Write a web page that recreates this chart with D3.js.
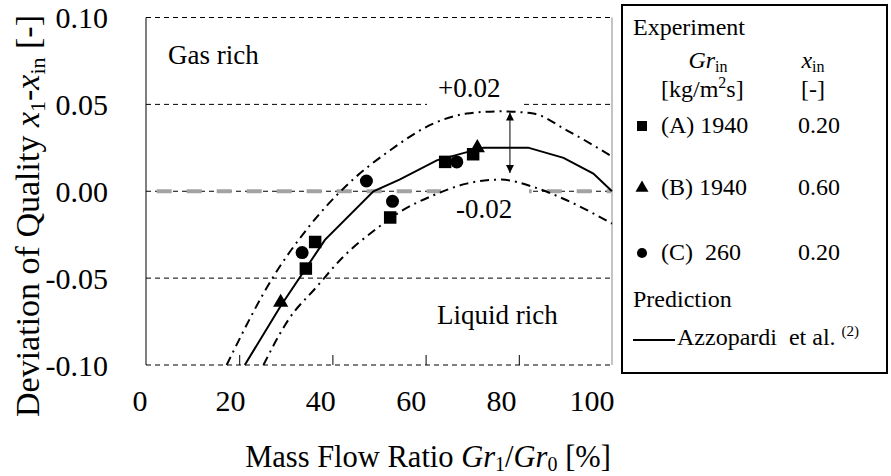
<!DOCTYPE html>
<html><head><meta charset="utf-8">
<script src="https://cdn.jsdelivr.net/npm/d3@7/dist/d3.min.js"></script>
<style>
body{margin:0;background:#fff}
svg{display:block}
</style>
</head><body>
<svg id="c" width="891" height="476" font-family="'Liberation Serif', 'Times New Roman', Times, 'DejaVu Serif', serif"></svg>
<script>
// ---------- data ----------
const xTicks = [0, 20, 40, 60, 80, 100];
const yTicks = [-0.10, -0.05, 0.00, 0.05, 0.10];
const gridLevels = [-0.10, -0.05, 0.00, 0.05, 0.10];
// Experiment (A) Gr_in 1940, x_in 0.20 (squares)
const seriesA = [[34.3, -0.0445], [36.3, -0.0292], [52.4, -0.0151], [64.2, 0.0169], [70.2, 0.0213]];
// Experiment (B) Gr_in 1940, x_in 0.60 (triangles)
const seriesB = [[28.9, -0.0640], [71.1, 0.0250]];
// Experiment (C) Gr_in 260, x_in 0.20 (circles)
const seriesC = [[33.5, -0.0353], [47.3, 0.0059], [52.9, -0.0058], [66.7, 0.0169]];
// Prediction, Azzopardi et al.
const prediction = [[21.2, -0.100], [28.9, -0.066], [38.4, -0.028], [48.8, 0.000], [54.4, 0.0067], [62.4, 0.0178],
  [72.4, 0.0251], [82.0, 0.0251], [89.6, 0.0192], [96.0, 0.0102], [100, 0.000]];
// +0.02 band
const upperBand = [[17.3, -0.100], [27.3, -0.0493], [34.8, -0.0209], [43.1, 0.0035], [52.4, 0.0236], [61.7, 0.0390],
  [68.8, 0.0447], [76.0, 0.0460], [83.1, 0.0447], [90.3, 0.0351], [100, 0.0200]];
// -0.02 band
const lowerBand = [[25.2, -0.100], [30.5, -0.0742], [36.6, -0.0551], [42.3, -0.0378], [49.5, -0.0215], [54.5, -0.0119],
  [61.7, -0.0023], [68.8, 0.0044], [76.0, 0.0067], [83.1, 0.0025], [90.3, -0.0052], [100, -0.0186]];
const arrowX = 78.1, arrowTop = 0.0453, arrowBottom = 0.0105;

// ---------- scales ----------
const svg = d3.select("#c");
const FONT = "'Liberation Serif', 'Times New Roman', Times, 'DejaVu Serif', serif";
const x = d3.scaleLinear().domain([0, 100]).range([146, 612]);
const xLab = d3.scaleLinear().domain([0, 100]).range([140, 592]);
const y = d3.scaleLinear().domain([-0.10, 0.10]).range([365, 17.5]);

// gridlines
svg.append("g").selectAll("line").data(gridLevels).join("line")
  .attr("x1", x(0)).attr("x2", x(100)).attr("y1", d => y(d)).attr("y2", d => y(d))
  .attr("stroke", "#000").attr("stroke-width", 1).attr("stroke-dasharray", "5,4");
// zero reference (gray)
svg.append("line").attr("x1", x(0)).attr("x2", x(100)).attr("y1", y(0)).attr("y2", y(0))
  .attr("stroke", "#a3a3a3").attr("stroke-width", 4).attr("stroke-dasharray", "15,15").attr("stroke-dashoffset", 19.3);
// left axis
svg.append("line").attr("x1", x(0)).attr("x2", x(0)).attr("y1", y(0.10)).attr("y2", y(-0.10))
  .attr("stroke", "#000").attr("stroke-width", 1);
// right border
svg.append("line").attr("x1", x(100)).attr("x2", x(100)).attr("y1", y(0.10)).attr("y2", y(-0.10))
  .attr("stroke", "#c4c4c4").attr("stroke-width", 2);
// x ticks (inward)
const ax = svg.append("g").attr("transform", `translate(0,${y(-0.10)})`)
  .call(d3.axisTop(x).tickValues(xTicks.filter(v => v > 0 && v < 100)).tickSize(10).tickFormat(""));
ax.select(".domain").remove();
ax.selectAll("line").attr("stroke", "#000").attr("stroke-width", 1);

// white label boxes
svg.append("rect").attr("x", 427).attr("y", 72).attr("width", 95).attr("height", 36).attr("fill", "#fff");
svg.append("rect").attr("x", 441).attr("y", 188).attr("width", 88).attr("height", 36).attr("fill", "#fff");

// curves
const line = d3.line().x(d => x(d[0])).y(d => y(d[1]));
const smooth = d3.line().x(d => x(d[0])).y(d => y(d[1])).curve(d3.curveMonotoneX);
[upperBand, lowerBand].forEach(b => svg.append("path").attr("d", smooth(b))
  .attr("fill", "none").attr("stroke", "#000").attr("stroke-width", 2).attr("stroke-dasharray", "9,5,2,5"));
svg.append("path").attr("d", line(prediction)).attr("fill", "none").attr("stroke", "#000").attr("stroke-width", 2);

// markers
const sym = (type, size) => d3.symbol().type(type).size(size)();
const addPts = (data, type, size) => svg.append("g").selectAll("path").data(data).join("path")
  .attr("d", sym(type, size)).attr("transform", d => `translate(${x(d[0])},${y(d[1])})`).attr("fill", "#000");
addPts(seriesC, d3.symbolCircle, 133);
addPts(seriesA, d3.symbolSquare, 156);
addPts(seriesB, d3.symbolTriangle, 100);

// arrow
const defs = svg.append("defs");
defs.append("marker").attr("id", "ah").attr("viewBox", "0 0 10 10").attr("refX", 10).attr("refY", 5)
  .attr("markerWidth", 10).attr("markerHeight", 8).attr("markerUnits", "userSpaceOnUse").attr("orient", "auto-start-reverse")
  .append("path").attr("d", "M0,0L10,5L0,10Z").attr("fill", "#000");
svg.append("line").attr("x1", x(arrowX)).attr("x2", x(arrowX)).attr("y1", y(arrowTop)).attr("y2", y(arrowBottom))
  .attr("stroke", "#000").attr("stroke-width", 1).attr("marker-start", "url(#ah)").attr("marker-end", "url(#ah)");

// helper for text
const txt = (sel) => sel.append("text").attr("font-family", FONT).attr("fill", "#000");
const T = (tx, ty, s, size, anchor) => txt(svg).attr("x", tx).attr("y", ty).attr("font-size", size)
  .attr("text-anchor", anchor || "start").text(s);
T(168, 64, "Gas rich", 27);
T(437, 324, "Liquid rich", 27);
T(438, 97, "+0.02", 27);
T(456, 218, "-0.02", 27);

// tick labels
svg.append("g").attr("font-family", FONT).selectAll("text").data(yTicks).join("text")
  .attr("x", 108).attr("y", d => y(d)).attr("dy", "0.35em").attr("text-anchor", "end").attr("font-size", 30)
  .text(d => d.toFixed(2));
svg.append("g").attr("font-family", FONT).selectAll("text").data(xTicks).join("text")
  .attr("x", d => xLab(d)).attr("y", 411).attr("text-anchor", "middle").attr("font-size", 30)
  .text(d => d);

// axis titles
const xt = txt(svg).attr("x", 428).attr("y", 467).attr("text-anchor", "middle").attr("font-size", 30.5);
xt.append("tspan").text("Mass Flow Ratio ");
xt.append("tspan").attr("font-style", "italic").text("Gr");
xt.append("tspan").attr("font-size", 20).attr("dy", 4).text("1");
xt.append("tspan").attr("dy", -4).text("/");
xt.append("tspan").attr("font-style", "italic").text("Gr");
xt.append("tspan").attr("font-size", 20).attr("dy", 4).text("0");
xt.append("tspan").attr("dy", -4).text(" [%]");

const yt = txt(svg).attr("transform", "translate(39,216) rotate(-90)").attr("text-anchor", "middle").attr("font-size", 34);
yt.append("tspan").text("Deviation of Quality ");
yt.append("tspan").attr("font-style", "italic").text("x");
yt.append("tspan").attr("font-size", 22).attr("dy", 6).text("1");
yt.append("tspan").attr("dy", -6).text("-");
yt.append("tspan").attr("font-style", "italic").text("x");
yt.append("tspan").attr("font-size", 22).attr("dy", 6).text("in");
yt.append("tspan").attr("dy", -6).text(" [-]");

// legend
svg.append("rect").attr("x", 622).attr("y", 5).attr("width", 265).attr("height", 368)
  .attr("fill", "#fff").attr("stroke", "#000").attr("stroke-width", 2);
const L = (tx, ty, s, anchor) => txt(svg).attr("x", tx).attr("y", ty).attr("font-size", 24)
  .attr("text-anchor", anchor || "start").text(s);
L(633, 35, "Experiment");
const g1 = txt(svg).attr("x", 708).attr("y", 68).attr("font-size", 24).attr("text-anchor", "middle");
g1.append("tspan").attr("font-style", "italic").text("Gr");
g1.append("tspan").attr("font-size", 16).attr("dy", 4).text("in");
const g2 = txt(svg).attr("x", 813).attr("y", 68).attr("font-size", 24).attr("text-anchor", "middle");
g2.append("tspan").attr("font-style", "italic").text("x");
g2.append("tspan").attr("font-size", 16).attr("dy", 4).text("in");
const g3 = txt(svg).attr("x", 661).attr("y", 97).attr("font-size", 24);
g3.append("tspan").text("[kg/m");
g3.append("tspan").attr("font-size", 16).attr("dy", -9).text("2");
g3.append("tspan").attr("dy", 9).text("s]");
L(813, 97, "[-]", "middle");
const legRows = [
  {type: d3.symbolSquare, size: 100, ty: 133, label: "(A) 1940", xin: "0.20"},
  {type: d3.symbolTriangle, size: 73, ty: 195, label: "(B) 1940", xin: "0.60"},
  {type: d3.symbolCircle, size: 80, ty: 260, label: "(C)  260", xin: "0.20"}
];
legRows.forEach(r => {
  svg.append("path").attr("d", sym(r.type, r.size)).attr("transform", `translate(642,${r.ty - 7})`).attr("fill", "#000");
  L(661, r.ty, r.label).style("white-space", "pre");
  L(798, r.ty, r.xin);
});
L(633, 307, "Prediction");
svg.append("line").attr("x1", 633).attr("x2", 675).attr("y1", 340).attr("y2", 340).attr("stroke", "#000").attr("stroke-width", 2);
const az = txt(svg).attr("x", 677).attr("y", 345).attr("font-size", 24).style("white-space", "pre");
az.append("tspan").text("Azzopardi  et al. ");
az.append("tspan").attr("font-size", 15).attr("dy", -9).text("(2)");
</script>
</body></html>
